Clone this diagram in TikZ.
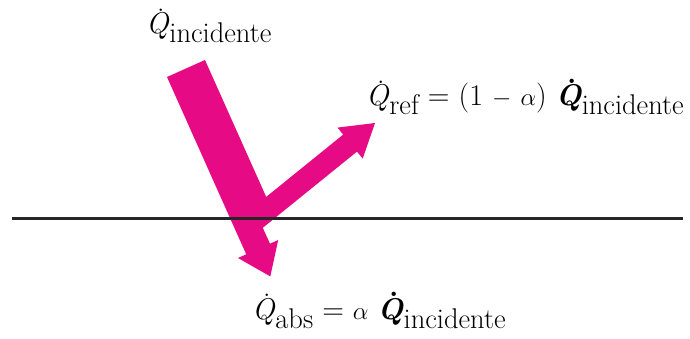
\documentclass[tikz,border=0pt]{standalone}
\usepackage{fontspec}
\definecolor{mag}{RGB}{230,10,132}
\newcommand{\Qd}{\hbox{\rlap{\hspace{0.36em}\raisebox{0.74em}{\upshape.}}\textit{Q}}}
\newcommand{\Qdb}{\hbox{\bfseries\rlap{\hspace{0.38em}\raisebox{0.74em}{\upshape.}}\textit{Q}}}
\newcommand{\subx}[1]{\raisebox{-0.3em}{\fontsize{28.5}{28.5}\selectfont #1}}
\newcommand{\alp}{\ensuremath{\alpha}}
\begin{document}
\begin{tikzpicture}[x=1pt,y=-1pt,
  lbl/.style={anchor=base west, inner sep=0pt, font=\fontsize{30}{36}\selectfont},
  beam/.style={fill=mag, draw=none},
  surf/.style={line width=3pt, draw=black!85}]
\useasboundingbox (0,0) rectangle (690,339);
\fill[beam] (167,77) -- (205,60) -- (266.2,196.9) -- (343.2,134.6) -- (337.5,127.6)
  -- (375,123) -- (362.7,158.6) -- (357,151.6) -- (262.8,227.8) -- (270,243.7)
  -- (278.2,240) -- (270.3,276.4) -- (238,258) -- (246.2,254.3) -- cycle;
\coordinate (sl) at (12,218);
\coordinate (sr) at (683,218);
\draw[surf] (sl) -- (sr);
\node[lbl] (inc) at (146,34) {\Qd\subx{incidente}};
\node[lbl] (ref) at (366,106) {\Qd\subx{ref} = (1 \ensuremath{-} \alp) \Qdb\subx{incidente}};
\node[lbl] (abs) at (252,319) {\Qd\subx{abs} = \alp{} \Qdb\subx{incidente}};
\end{tikzpicture}
\end{document}
